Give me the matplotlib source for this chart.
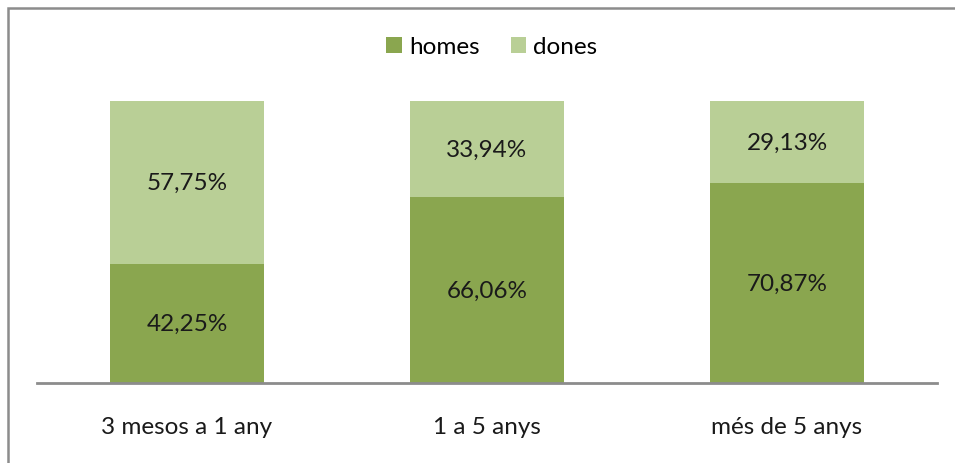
import matplotlib.pyplot as plt
from matplotlib.patches import Rectangle

categories = ["3 mesos a 1 any", "1 a 5 anys", "més de 5 anys"]
homes = [42.25, 66.06, 70.87]
dones = [57.75, 33.94, 29.13]
homes_labels = ["42,25%", "66,06%", "70,87%"]
dones_labels = ["57,75%", "33,94%", "29,13%"]

plt.rcParams['font.family'] = ['Lato', 'DejaVu Sans']

W, H = 955, 464
fig = plt.figure(figsize=(W / 100, H / 100), dpi=100)

# border round the chart (only left and top edges fall inside the image)
fig.patches.append(Rectangle((8 / W, -10 / H), (W + 20) / W, (H + 1) / H,
                             transform=fig.transFigure, fill=False,
                             edgecolor="#8c8c8c", linewidth=1.8))

left, right, bottom, top = 37, 937, 384, 102
ax = fig.add_axes([left / W, 1 - bottom / H, (right - left) / W, (bottom - top) / H])

x = range(len(categories))
c_h = "#8aa64f"
c_d = "#b9cf96"
ax.bar(x, homes, width=0.513, color=c_h, label="homes")
ax.bar(x, dones, width=0.513, bottom=homes, color=c_d, label="dones")

fs = 17.5
for i in x:
    ax.text(i, homes[i] / 2, homes_labels[i], ha="center", va="center", fontsize=fs, color="#1a1a1a")
    ax.text(i, homes[i] + dones[i] / 2, dones_labels[i], ha="center", va="center", fontsize=fs, color="#1a1a1a")

ax.set_xlim(-0.5, 2.5)
ax.set_ylim(0, 100)
ax.set_xticks(list(x))
ax.set_xticklabels(categories, fontsize=fs, color="#1a1a1a")
ax.tick_params(axis="x", length=0, pad=24)
ax.set_yticks([])
for s in ["top", "right", "left"]:
    ax.spines[s].set_visible(False)
ax.spines["bottom"].set_color("#8c8c8c")
ax.spines["bottom"].set_linewidth(2)

fig.legend(loc="center", bbox_to_anchor=(492 / W, 1 - 48 / H), ncol=2, frameon=False,
           fontsize=fs, handlelength=0.62, handleheight=0.62, handletextpad=0.3,
           columnspacing=1.3, borderpad=0)

fig.savefig("out.png", dpi=100)
